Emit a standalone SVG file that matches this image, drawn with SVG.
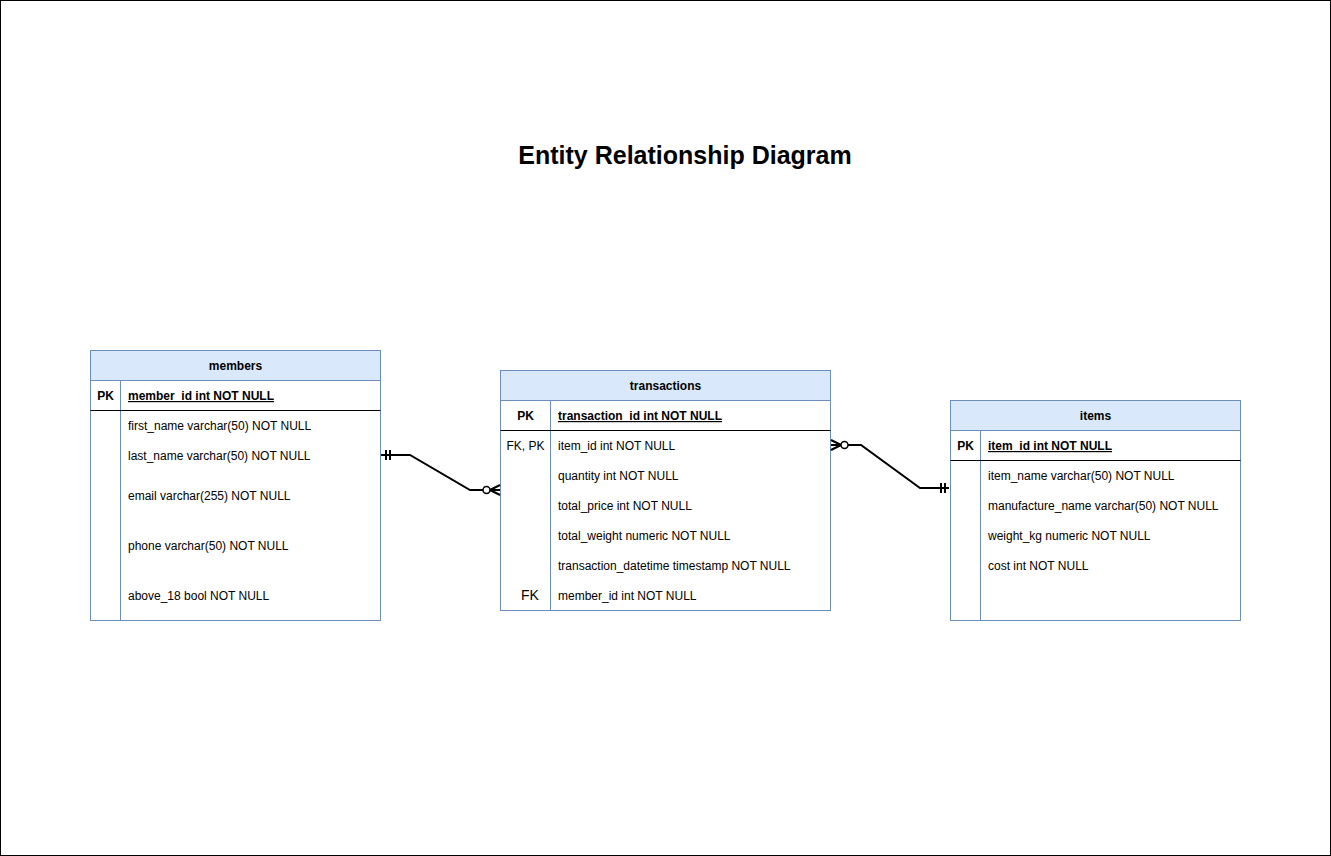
<svg xmlns="http://www.w3.org/2000/svg" width="1331" height="856" viewBox="0 0 1331 856">
<style>
text{font-family:"Liberation Sans",Arial,sans-serif;font-size:12px;fill:#000}
.b{font-weight:bold}
.u{text-decoration:underline}
.hdr{fill:#dae8fc;stroke:#6c8ebf;stroke-width:1}
.box{fill:#fff;stroke:#6c8ebf;stroke-width:1}
.sep{stroke:#000;stroke-width:1}
.div{stroke:#6c8ebf;stroke-width:1}
.c{fill:none;stroke:#000;stroke-width:2}
.title{font-size:25px;font-weight:bold}
</style>
<rect x="0.5" y="0.5" width="1330" height="855" fill="#fff" stroke="#000"/>
<text class="title" x="685" y="164" text-anchor="middle">Entity Relationship Diagram</text>

<g id="members">
<rect class="box" x="90.5" y="350.5" width="290" height="270"/>
<rect class="hdr" x="90.5" y="350.5" width="290" height="30"/>
<text class="b" x="235.5" y="370" text-anchor="middle">members</text>
<line class="div" x1="120.5" y1="380.5" x2="120.5" y2="620.5"/>
<line class="sep" x1="90.5" y1="410.5" x2="380.5" y2="410.5"/>
<text class="b" x="105.5" y="400" text-anchor="middle">PK</text>
<text class="b u" x="128" y="400">member_id int NOT NULL</text>
<text x="128" y="430">first_name varchar(50) NOT NULL</text>
<text x="128" y="460">last_name varchar(50) NOT NULL</text>
<text x="128" y="500">email varchar(255) NOT NULL</text>
<text x="128" y="550">phone varchar(50) NOT NULL</text>
<text x="128" y="600">above_18 bool NOT NULL</text>
</g>

<g id="transactions">
<rect class="box" x="500.5" y="370.5" width="330" height="240"/>
<rect class="hdr" x="500.5" y="370.5" width="330" height="30"/>
<text class="b" x="665.5" y="390" text-anchor="middle">transactions</text>
<line class="div" x1="550.5" y1="400.5" x2="550.5" y2="610.5"/>
<line class="sep" x1="500.5" y1="430.5" x2="830.5" y2="430.5"/>
<text class="b" x="525.5" y="420" text-anchor="middle">PK</text>
<text class="b u" x="558" y="420">transaction_id int NOT NULL</text>
<text x="525.5" y="450" text-anchor="middle">FK, PK</text>
<text x="558" y="450">item_id int NOT NULL</text>
<text x="558" y="480">quantity int NOT NULL</text>
<text x="558" y="510">total_price int NOT NULL</text>
<text x="558" y="540">total_weight numeric NOT NULL</text>
<text x="558" y="570">transaction_datetime timestamp NOT NULL</text>
<text x="530" y="600" text-anchor="middle" style="font-size:14px">FK</text>
<text x="558" y="600">member_id int NOT NULL</text>
</g>

<g id="items">
<rect class="box" x="950.5" y="400.5" width="290" height="220"/>
<rect class="hdr" x="950.5" y="400.5" width="290" height="30"/>
<text class="b" x="1095.5" y="420" text-anchor="middle">items</text>
<line class="div" x1="980.5" y1="430.5" x2="980.5" y2="620.5"/>
<line class="sep" x1="950.5" y1="460.5" x2="1240.5" y2="460.5"/>
<text class="b" x="965.5" y="450" text-anchor="middle">PK</text>
<text class="b u" x="988" y="450">item_id int NOT NULL</text>
<text x="988" y="480">item_name varchar(50) NOT NULL</text>
<text x="988" y="510">manufacture_name varchar(50) NOT NULL</text>
<text x="988" y="540">weight_kg numeric NOT NULL</text>
<text x="988" y="570">cost int NOT NULL</text>
</g>

<g id="connectors">
<path class="c" d="M381 455 H410 L470 490 H483"/>
<line class="c" x1="386" y1="450" x2="386" y2="460"/>
<line class="c" x1="390" y1="450" x2="390" y2="460"/>
<circle cx="486.5" cy="490" r="3.5" fill="#fff" stroke="#000" stroke-width="1.5"/>
<path class="c" d="M490 490 H500 M490 490 L500 485 M490 490 L500 495"/>

<path class="c" d="M848 445 H861 L920 488 H949"/>
<circle cx="844.5" cy="445" r="3.5" fill="#fff" stroke="#000" stroke-width="1.5"/>
<path class="c" d="M831 445 H841 M841 445 L831 440 M841 445 L831 450"/>
<line class="c" x1="941" y1="483" x2="941" y2="493"/>
<line class="c" x1="945" y1="483" x2="945" y2="493"/>
</g>
</svg>
